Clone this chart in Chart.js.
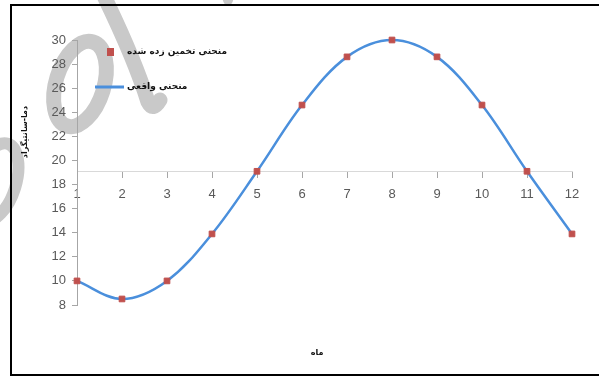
<!DOCTYPE html>
<html>
<head>
<meta charset="utf-8">
<script src="https://cdn.jsdelivr.net/npm/chart.js@4/dist/chart.umd.min.js"></script>
<style>
  html, body { margin: 0; padding: 0; background: #fff; }
  #wrap { position: relative; width: 599px; height: 377px; }
</style>
</head>
<body>
<div id="wrap"><canvas id="tempChart"></canvas></div>
<script>
// months on the x axis
const months = [1, 2, 3, 4, 5, 6, 7, 8, 9, 10, 11, 12];
// estimated curve (red squares)
const estimated = [10, 8.5, 10, 13.9, 19.1, 24.6, 28.6, 30, 28.6, 24.6, 19.1, 13.9];
// real curve (smooth blue line)
const actual = [10, 8.5, 10, 13.9, 19.1, 24.6, 28.6, 30, 28.6, 24.6, 19.1, 13.9];
const yMin = 8, yMax = 30, yStep = 2;
const xCross = 19.1;

const labels = {
    estimated: 'منحنی تخمین زده شده',
    actual: 'منحنی واقعی',
    xTitle: 'ماه',
    yTitle: 'دما-سانتیگراد'
};

const RED = '#c0504d';
const BLUE = '#4a8fdc';
const TICK_COLOR = '#595959';

const toPoints = vals => months.map((m, i) => ({ x: m, y: vals[i] }));

// faint watermark behind the chart
const watermark = {
    id: 'watermark',
    beforeDraw(chart) {
        const ctx = chart.ctx;
        ctx.save();
        ctx.strokeStyle = '#c9c9c9';
        ctx.lineCap = 'round';
        ctx.lineWidth = 15;
        ctx.beginPath();
        ctx.ellipse(80, 84, 24, 44, 0.3, 0, Math.PI * 2);
        ctx.stroke();
        ctx.beginPath();
        ctx.moveTo(104, -4);
        ctx.quadraticCurveTo(135, 60, 148, 102);
        ctx.quadraticCurveTo(153, 112, 160, 100);
        ctx.stroke();
        ctx.lineWidth = 12;
        ctx.beginPath();
        ctx.ellipse(-4, 182, 20, 40, 0.3, 0, Math.PI * 2);
        ctx.stroke();
        ctx.beginPath();
        ctx.ellipse(228, -6, 6, 12, 0, 0, Math.PI * 2);
        ctx.fillStyle = '#c9c9c9';
        ctx.fill();
        ctx.restore();
    }
};

// legend, axis titles and frame
const decorations = {
    id: 'decorations',
    afterDraw(chart) {
        const ctx = chart.ctx;
        const area = chart.chartArea;
        const ds = chart.data.datasets;
        ctx.save();
        ctx.font = 'bold 9px "DejaVu Sans"';
        ctx.fillStyle = '#111';
        ctx.textBaseline = 'middle';
        ctx.textAlign = 'left';

        // legend item 1: red square
        ctx.fillStyle = ds[0].backgroundColor;
        ctx.fillRect(area.left + 30, 48, 7, 8);
        ctx.fillStyle = '#111';
        ctx.fillText(ds[0].label, area.left + 50, 52);

        // legend item 2: blue line
        ctx.strokeStyle = ds[1].borderColor;
        ctx.lineWidth = 3;
        ctx.beginPath();
        ctx.moveTo(area.left + 18, 87);
        ctx.lineTo(area.left + 47, 87);
        ctx.stroke();
        ctx.fillText(ds[1].label, area.left + 50, 87);

        // axis titles
        ctx.font = 'bold 8px "DejaVu Sans"';
        ctx.textAlign = 'center';
        ctx.fillText(labels.xTitle, 317, 353);
        ctx.translate(25, 132);
        ctx.rotate(-Math.PI / 2);
        ctx.fillText(labels.yTitle, 0, 0);
        ctx.restore();

        // frame
        ctx.save();
        ctx.strokeStyle = '#000';
        ctx.lineWidth = 2;
        ctx.strokeRect(11, 5, 600, 370);
        ctx.restore();
    }
};

new Chart(document.getElementById('tempChart').getContext('2d'), {
    type: 'scatter',
    data: {
        datasets: [
            {
                label: labels.estimated,
                data: toPoints(estimated),
                backgroundColor: RED,
                borderColor: RED,
                pointStyle: 'rect',
                pointRadius: 4,
                showLine: false,
                clip: false
            },
            {
                label: labels.actual,
                data: toPoints(actual),
                borderColor: BLUE,
                backgroundColor: BLUE,
                borderWidth: 2.5,
                pointRadius: 0,
                showLine: true,
                tension: 0.35,
                clip: false
            }
        ]
    },
    plugins: [watermark, decorations],
    options: {
        responsive: true,
        maintainAspectRatio: false,
        animation: false,
        layout: {
            padding: { left: 47, right: 27, top: 40, bottom: 72 }
        },
        plugins: {
            legend: { display: false },
            tooltip: { enabled: false }
        },
        scales: {
            x: {
                type: 'linear',
                min: 1,
                max: 12,
                position: { y: xCross },
                grid: {
                    drawOnChartArea: false,
                    drawTicks: true,
                    tickLength: 6,
                    color: '#a6a6a6'
                },
                border: { color: '#d9d9d9', width: 1 },
                ticks: {
                    stepSize: 1,
                    padding: 9,
                    color: TICK_COLOR,
                    font: { family: 'Liberation Sans', size: 13 }
                }
            },
            y: {
                type: 'linear',
                min: yMin,
                max: yMax,
                position: 'left',
                afterFit(scale) { scale.width = 30; },
                grid: {
                    drawOnChartArea: false,
                    drawTicks: true,
                    tickLength: 5,
                    color: '#a6a6a6'
                },
                border: { color: '#a6a6a6', width: 1 },
                ticks: {
                    stepSize: yStep,
                    padding: 6,
                    color: TICK_COLOR,
                    font: { family: 'Liberation Sans', size: 13 }
                }
            }
        }
    }
});
</script>
</body>
</html>
